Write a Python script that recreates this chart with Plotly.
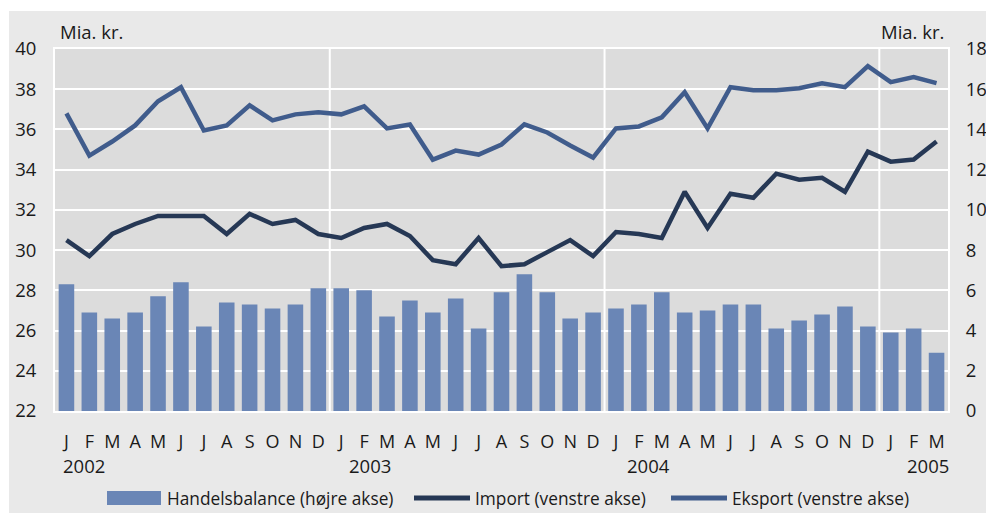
import plotly.graph_objects as go

# ---- data ----
month_labels = ["J", "F", "M", "A", "M", "J", "J", "A", "S", "O", "N", "D"] * 3 + ["J", "F", "M"]
years = ["2002", "2003", "2004", "2005"]
handelsbalance = [6.3, 4.9, 4.6, 4.9, 5.7, 6.4, 4.2, 5.4, 5.3, 5.1, 5.3, 6.1,
                  6.1, 6.0, 4.7, 5.5, 4.9, 5.6, 4.1, 5.9, 6.8, 5.9, 4.6, 4.9,
                  5.1, 5.3, 5.9, 4.9, 5.0, 5.3, 5.3, 4.1, 4.5, 4.8, 5.2, 4.2,
                  3.9, 4.1, 2.9]
importv = [30.5, 29.7, 30.8, 31.3, 31.7, 31.7, 31.7, 30.8, 31.8, 31.3, 31.5, 30.8,
           30.6, 31.1, 31.3, 30.7, 29.5, 29.3, 30.6, 29.2, 29.3, 29.9, 30.5, 29.7,
           30.9, 30.8, 30.6, 32.9, 31.1, 32.8, 32.6, 33.8, 33.5, 33.6, 32.9, 34.9,
           34.4, 34.5, 35.4]
eksport = [36.8, 34.7, 35.4, 36.2, 37.4, 38.1, 35.95, 36.2, 37.2, 36.45, 36.75, 36.85,
           36.75, 37.15, 36.05, 36.25, 34.5, 34.95, 34.75, 35.25, 36.25, 35.85, 35.2, 34.6,
           36.05, 36.15, 36.6, 37.85, 36.05, 38.1, 37.95, 37.95, 38.05, 38.3, 38.1, 39.15,
           38.35, 38.6, 38.3]
legend_names = ["Handelsbalance (højre akse)", "Import (venstre akse)", "Eksport (venstre akse)"]
unit_label = "Mia. kr."

x = list(range(len(month_labels)))

# ---- style ----
FONT = "Open Sans"
TXT = "#1a1a1a"
BAR_C = "#6a86b6"
IMP_C = "#263855"
EKS_C = "#405c8c"
OUTER_BG = "#e9e9e9"
PLOT_BG = "#dcdcdc"

W, H = 986, 513
L, R, T, B = 55, 38, 49, 102
PW, PH = W - L - R, H - T - B


def px(xp):
    return (xp - L) / PW


def py(yp):
    return (H - B - yp) / PH


fig = go.Figure()
fig.add_trace(go.Bar(x=x, y=handelsbalance, yaxis="y2", name=legend_names[0],
                     marker=dict(color=BAR_C, line=dict(width=0)), width=0.68,
                     showlegend=False))
fig.add_trace(go.Scatter(x=x, y=importv, mode="lines", name=legend_names[1],
                         line=dict(color=IMP_C, width=4.5), showlegend=False))
fig.add_trace(go.Scatter(x=x, y=eksport, mode="lines", name=legend_names[2],
                         line=dict(color=EKS_C, width=4.5), showlegend=False))

shapes = []
# white strips at the top and left of the grey panel
shapes.append(dict(type="rect", xref="paper", yref="paper", x0=px(0), x1=px(W),
                   y0=py(11), y1=py(0), fillcolor="white", line=dict(width=0), layer="below"))
shapes.append(dict(type="rect", xref="paper", yref="paper", x0=px(0), x1=px(9),
                   y0=py(H), y1=py(0), fillcolor="white", line=dict(width=0), layer="below"))
# year separators
for xb in [11.5, 23.5, 35.5]:
    shapes.append(dict(type="line", xref="x", yref="paper", x0=xb, x1=xb, y0=0, y1=1,
                       line=dict(color="white", width=2), layer="below"))

annotations = []
# year labels
year_pos = [(84, "center"), (370, "center"), (648, "center"), (951, "right")]
for (xp, anc), yr in zip(year_pos, years):
    annotations.append(dict(x=px(xp), y=py(466), xref="paper", yref="paper", text=yr,
                            showarrow=False, xanchor=anc, yanchor="middle",
                            font=dict(family=FONT, size=18.5, color=TXT)))
# unit labels
annotations.append(dict(x=px(58), y=py(31), xref="paper", yref="paper", text=unit_label,
                        showarrow=False, xanchor="left", yanchor="middle",
                        font=dict(family=FONT, size=18.5, color=TXT)))
annotations.append(dict(x=px(946), y=py(31), xref="paper", yref="paper", text=unit_label,
                        showarrow=False, xanchor="right", yanchor="middle",
                        font=dict(family=FONT, size=18.5, color=TXT)))

# manual legend
LY = 498
shapes.append(dict(type="rect", xref="paper", yref="paper", x0=px(107), x1=px(161),
                   y0=py(505), y1=py(491), fillcolor=BAR_C, line=dict(width=0)))
shapes.append(dict(type="line", xref="paper", yref="paper", x0=px(414), x1=px(470),
                   y0=py(LY), y1=py(LY), line=dict(color=IMP_C, width=5)))
shapes.append(dict(type="line", xref="paper", yref="paper", x0=px(671), x1=px(727),
                   y0=py(LY), y1=py(LY), line=dict(color=EKS_C, width=5)))
for xp, name in zip([165, 473, 730], legend_names):
    annotations.append(dict(x=px(xp), y=py(LY), xref="paper", yref="paper", text=name,
                            showarrow=False, xanchor="left", yanchor="middle",
                            font=dict(family=FONT, size=17.3, color=TXT)))

fig.update_layout(
    width=W, height=H,
    margin=dict(l=L, r=R, t=T, b=B, pad=0),
    paper_bgcolor=OUTER_BG,
    plot_bgcolor=PLOT_BG,
    font=dict(family=FONT, size=18, color=TXT),
    bargap=0.32,
    showlegend=False,
    xaxis=dict(range=[-0.5, len(x) - 0.5], tickmode="array", tickvals=x, ticktext=month_labels,
               showgrid=False, zeroline=False, showline=True, mirror=True, automargin=False,
               linecolor="white", linewidth=2, ticks="outside", ticklen=13,
               tickcolor="rgba(0,0,0,0)", tickfont=dict(size=18)),
    yaxis=dict(range=[22, 40], tickmode="array", tickvals=list(range(22, 41, 2)),
               showgrid=True, gridcolor="white", gridwidth=2, zeroline=False, automargin=False,
               showline=True, mirror=True, linecolor="white", linewidth=2,
               ticks="outside", ticklen=13, tickcolor="rgba(0,0,0,0)", tickfont=dict(size=18.5)),
    yaxis2=dict(range=[0, 18], tickmode="array", tickvals=list(range(0, 19, 2)),
                overlaying="y", side="right", showgrid=False, zeroline=False, automargin=False,
                ticks="outside", ticklen=13, tickcolor="rgba(0,0,0,0)", tickfont=dict(size=18.5)),
    shapes=shapes,
    annotations=annotations,
)

fig.write_html(
    "out.html",
    config={"displayModeBar": False},
    post_script="document.body.style.margin='0';document.body.style.overflow='hidden';",
)
